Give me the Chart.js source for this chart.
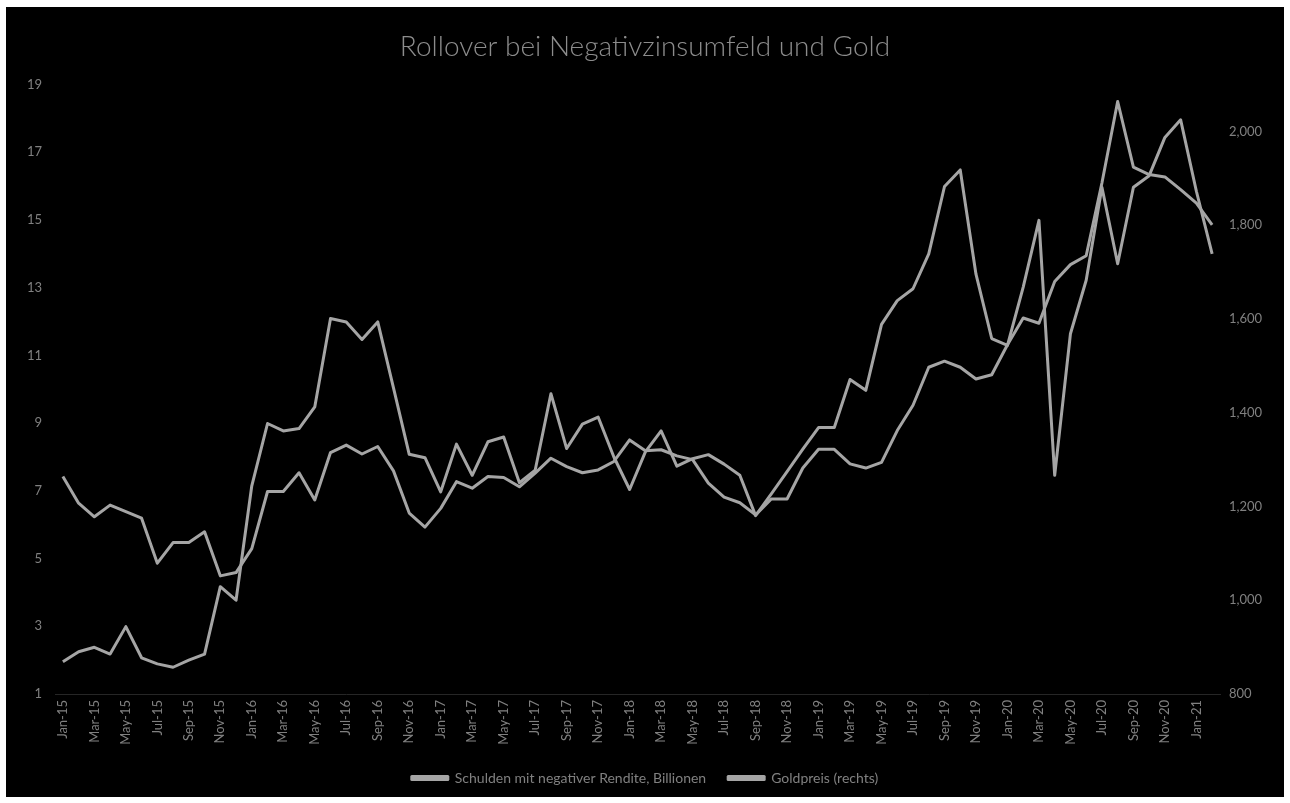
<!DOCTYPE html>
<html>
<head>
<meta charset="utf-8">
<script src="https://cdn.jsdelivr.net/npm/chart.js@4.4.1/dist/chart.umd.min.js"></script>
<style>
  html, body { margin: 0; padding: 0; background: #fff; }
  #frame { position: absolute; left: 6px; top: 7px; width: 1278px; height: 790px; background: #000; }
  canvas { display: block; }
</style>
</head>
<body>
<div id="frame"><canvas id="chart" width="1278" height="790"></canvas></div>
<script>
// Monatswerte Jan-15 .. Feb-21
const months = [
  'Jan-15','Feb-15','Mar-15','Apr-15','May-15','Jun-15','Jul-15','Aug-15','Sep-15','Oct-15','Nov-15','Dec-15',
  'Jan-16','Feb-16','Mar-16','Apr-16','May-16','Jun-16','Jul-16','Aug-16','Sep-16','Oct-16','Nov-16','Dec-16',
  'Jan-17','Feb-17','Mar-17','Apr-17','May-17','Jun-17','Jul-17','Aug-17','Sep-17','Oct-17','Nov-17','Dec-17',
  'Jan-18','Feb-18','Mar-18','Apr-18','May-18','Jun-18','Jul-18','Aug-18','Sep-18','Oct-18','Nov-18','Dec-18',
  'Jan-19','Feb-19','Mar-19','Apr-19','May-19','Jun-19','Jul-19','Aug-19','Sep-19','Oct-19','Nov-19','Dec-19',
  'Jan-20','Feb-20','Mar-20','Apr-20','May-20','Jun-20','Jul-20','Aug-20','Sep-20','Oct-20','Nov-20','Dec-20',
  'Jan-21','Feb-21'
];

// Schulden mit negativer Rendite (Billionen, linke Achse)
const schulden = [
  1.95, 2.25, 2.38, 2.18, 2.99, 2.07, 1.89, 1.79, 2.0, 2.18, 4.17, 3.77,
  7.15, 8.99, 8.77, 8.84, 9.48, 12.09, 11.99, 11.47, 11.99, 10.04, 8.08, 7.98,
  6.97, 8.38, 7.46, 8.45, 8.59, 7.24, 7.61, 9.87, 8.25, 8.97, 9.18, 8.0,
  7.04, 8.15, 8.77, 7.73, 7.95, 8.07, 7.79, 7.46, 6.27, 6.91, 7.57, 8.23,
  8.87, 8.87, 10.29, 9.97, 11.92, 12.62, 12.97, 14.0, 15.99, 16.48, 13.4, 11.5,
  11.3, 13.02, 14.99, 7.46, 11.64, 13.22, 15.97, 13.71, 15.97, 16.31, 17.44, 17.96,
  15.85, 14.0
];

// Goldpreis (rechte Achse)
const gold = [
  1264, 1207, 1178, 1203, 1189, 1175, 1079, 1123, 1123, 1146, 1052, 1059,
  1110, 1232, 1232, 1272, 1214, 1315, 1331, 1312, 1328, 1276, 1186, 1156,
  1196, 1253, 1239, 1264, 1262, 1242, 1271, 1303, 1285, 1272, 1278, 1296,
  1342, 1319, 1321, 1308, 1300, 1250, 1220, 1208, 1182, 1216, 1216, 1282,
  1322, 1322, 1291, 1282, 1294, 1362, 1416, 1497, 1510, 1497, 1472, 1481,
  1545, 1602, 1591, 1680, 1716, 1735, 1890, 2064, 1924, 1908, 1903, 1876,
  1847, 1801
];

const lineColor = '#a5a5a5';
const textColor = '#808080';
const fontFamily = 'Lato, "Open Sans", sans-serif';

const ctx = document.getElementById('chart').getContext('2d');
new Chart(ctx, {
  type: 'line',
  data: {
    labels: months,
    datasets: [
      {
        label: 'Schulden mit negativer Rendite, Billionen',
        data: schulden,
        yAxisID: 'y',
        borderColor: lineColor,
        backgroundColor: lineColor,
        borderWidth: 3,
        borderJoinStyle: 'round',
        pointRadius: 0,
        tension: 0
      },
      {
        label: 'Goldpreis (rechts)',
        data: gold,
        yAxisID: 'y1',
        borderColor: lineColor,
        backgroundColor: lineColor,
        borderWidth: 3,
        borderJoinStyle: 'round',
        pointRadius: 0,
        tension: 0
      }
    ]
  },
  options: {
    responsive: false,
    animation: false,
    layout: { padding: { left: 0, right: 0, top: 0, bottom: 2 } },
    plugins: {
      title: {
        display: true,
        text: 'Rollover bei Negativzinsumfeld und Gold',
        color: '#8c8c8c',
        font: { family: fontFamily, size: 28, weight: '300' },
        padding: { top: 23, bottom: 21 }
      },
      legend: {
        position: 'bottom',
        labels: {
          color: textColor,
          font: { family: fontFamily, size: 14 },
          boxWidth: 36,
          boxHeight: 3,
          padding: 22
        }
      },
      tooltip: { enabled: false }
    },
    scales: {
      x: {
        offset: true,
        grid: { display: false, drawTicks: false },
        border: { display: true, color: '#262626' },
        ticks: {
          color: textColor,
          font: { family: fontFamily, size: 13 },
          autoSkip: false,
          maxRotation: 90,
          minRotation: 90,
          padding: 6,
          callback: (v, i) => (i % 2 === 0 ? months[i] : '')
        },
        afterFit: s => { s.height = 55; }
      },
      y: {
        position: 'left',
        min: 1,
        max: 19,
        grid: { display: false, drawTicks: false },
        border: { display: false },
        ticks: {
          stepSize: 2,
          color: textColor,
          font: { family: fontFamily, size: 13 },
          padding: 13
        },
        afterFit: s => { s.width = 49; }
      },
      y1: {
        position: 'right',
        min: 800,
        max: 2100,
        grid: { display: false, drawTicks: false },
        border: { display: false },
        ticks: {
          stepSize: 200,
          includeBounds: false,
          color: textColor,
          font: { family: fontFamily, size: 13 },
          padding: 9,
          callback: v => v.toLocaleString('en-US')
        },
        afterFit: s => { s.width = 64; }
      }
    }
  }
});
</script>
</body>
</html>
